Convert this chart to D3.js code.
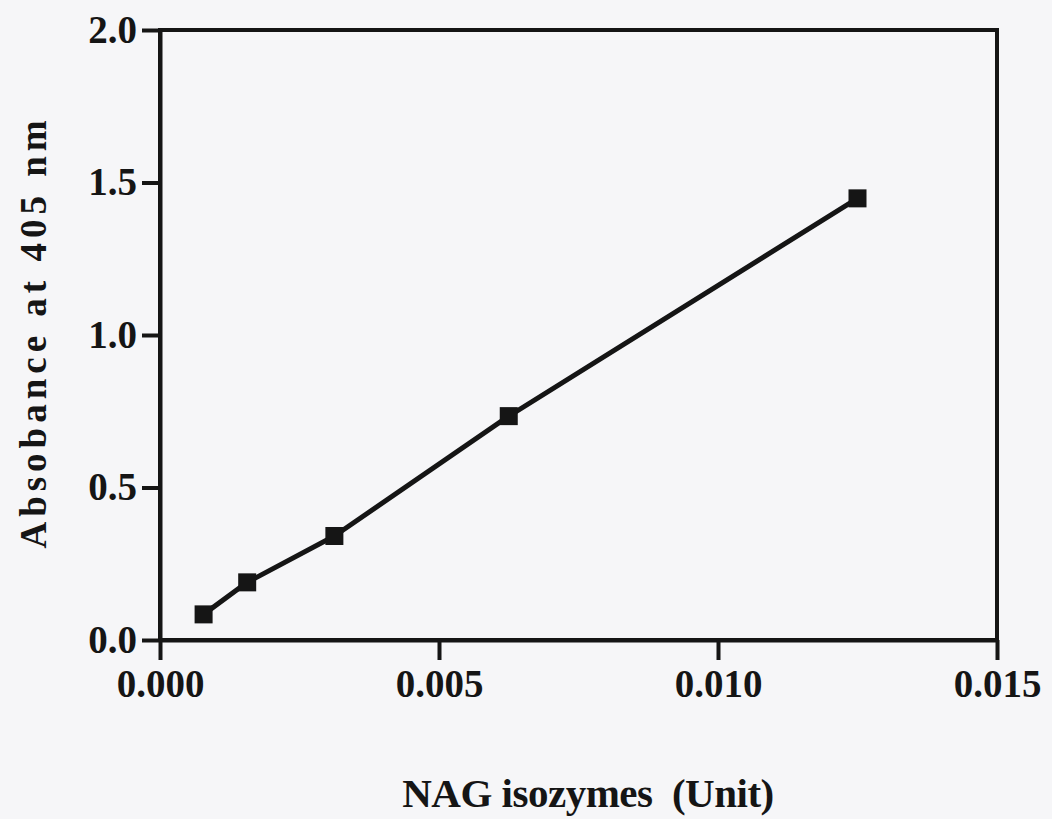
<!DOCTYPE html>
<html lang="en">
<head>
  <meta charset="utf-8">
  <title>NAG isozymes standard curve</title>
<style>
  body { margin: 0; background: #f6f6f8; }
  svg { display: block; }
  .axis text {
      font-family: "Liberation Serif", "Times New Roman", serif;
      font-weight: bold;
      font-size: 39px;
      fill: #151515;
  }
  .axis path, .axis line { stroke: #151515; stroke-width: 4px; }
  .title {
      font-family: "Liberation Serif", "Times New Roman", serif;
      font-weight: bold;
      fill: #151515;
      white-space: pre;
  }
</style>
  <script src="https://d3js.org/d3.v7.min.js"></script>
</head>
<body>
  <svg width="1052" height="819"></svg>
  <script>
    // data
    var units = [0.00078125, 0.0015625, 0.003125, 0.00625, 0.0125];
    var absorbance = [0.084, 0.189, 0.341, 0.734, 1.448];
    var xTicks = [0, 0.005, 0.010, 0.015];
    var yTicks = [0, 0.5, 1.0, 1.5, 2.0];

    var svg = d3.select("svg"),
        width = +svg.attr("width"),
        height = +svg.attr("height");

    var margin = {top: 30, right: 55, bottom: 179, left: 160};
    var w = width - margin.left - margin.right,
        h = height - margin.top - margin.bottom;

    var g = svg.append("g")
        .attr("transform", "translate(" + margin.left + "," + margin.top + ")");

    var x = d3.scaleLinear().domain([0, 0.015]).range([0, w]);
    var y = d3.scaleLinear().domain([0, 2.0]).range([h, 0]);

    // frame
    g.append("rect")
        .attr("width", w).attr("height", h)
        .attr("fill", "none")
        .attr("stroke", "#151515")
        .attr("stroke-width", 4);

    g.append("g")
        .attr("class", "axis")
        .call(d3.axisLeft(y).tickValues(yTicks).tickFormat(d3.format(".1f"))
            .tickSize(18).tickSizeOuter(0).tickPadding(5));

    g.append("g")
        .attr("class", "axis")
        .attr("transform", "translate(0," + h + ")")
        .call(d3.axisBottom(x).tickValues(xTicks).tickFormat(d3.format(".3f"))
            .tickSize(20).tickSizeOuter(0).tickPadding(9));

    var pts = units.map(function(u, i) { return [u, absorbance[i]]; });

    g.append("path")
        .datum(pts)
        .attr("fill", "none")
        .attr("stroke", "#151515")
        .attr("stroke-width", 5)
        .attr("stroke-linejoin", "round")
        .attr("d", d3.line().x(function(d) { return x(d[0]); }).y(function(d) { return y(d[1]); }));

    var s = 18;
    g.selectAll("rect.pt")
        .data(pts)
        .enter().append("rect")
            .attr("class", "pt")
            .attr("x", function(d) { return x(d[0]) - s / 2; })
            .attr("y", function(d) { return y(d[1]) - s / 2; })
            .attr("width", s).attr("height", s)
            .attr("fill", "#151515");

    // axis titles
    svg.append("text")
        .attr("class", "title")
        .attr("x", 588).attr("y", 807)
        .attr("text-anchor", "middle")
        .style("font-size", "41px")
        .style("letter-spacing", "-0.5px")
        .text("NAG isozymes  (Unit)");

    svg.append("text")
        .attr("class", "title")
        .attr("transform", "translate(46," + 332 + ") rotate(-90)")
        .attr("text-anchor", "middle")
        .style("font-size", "37px")
        .style("letter-spacing", "5px")
        .text("Absobance at 405 nm");
  </script>
</body>
</html>
